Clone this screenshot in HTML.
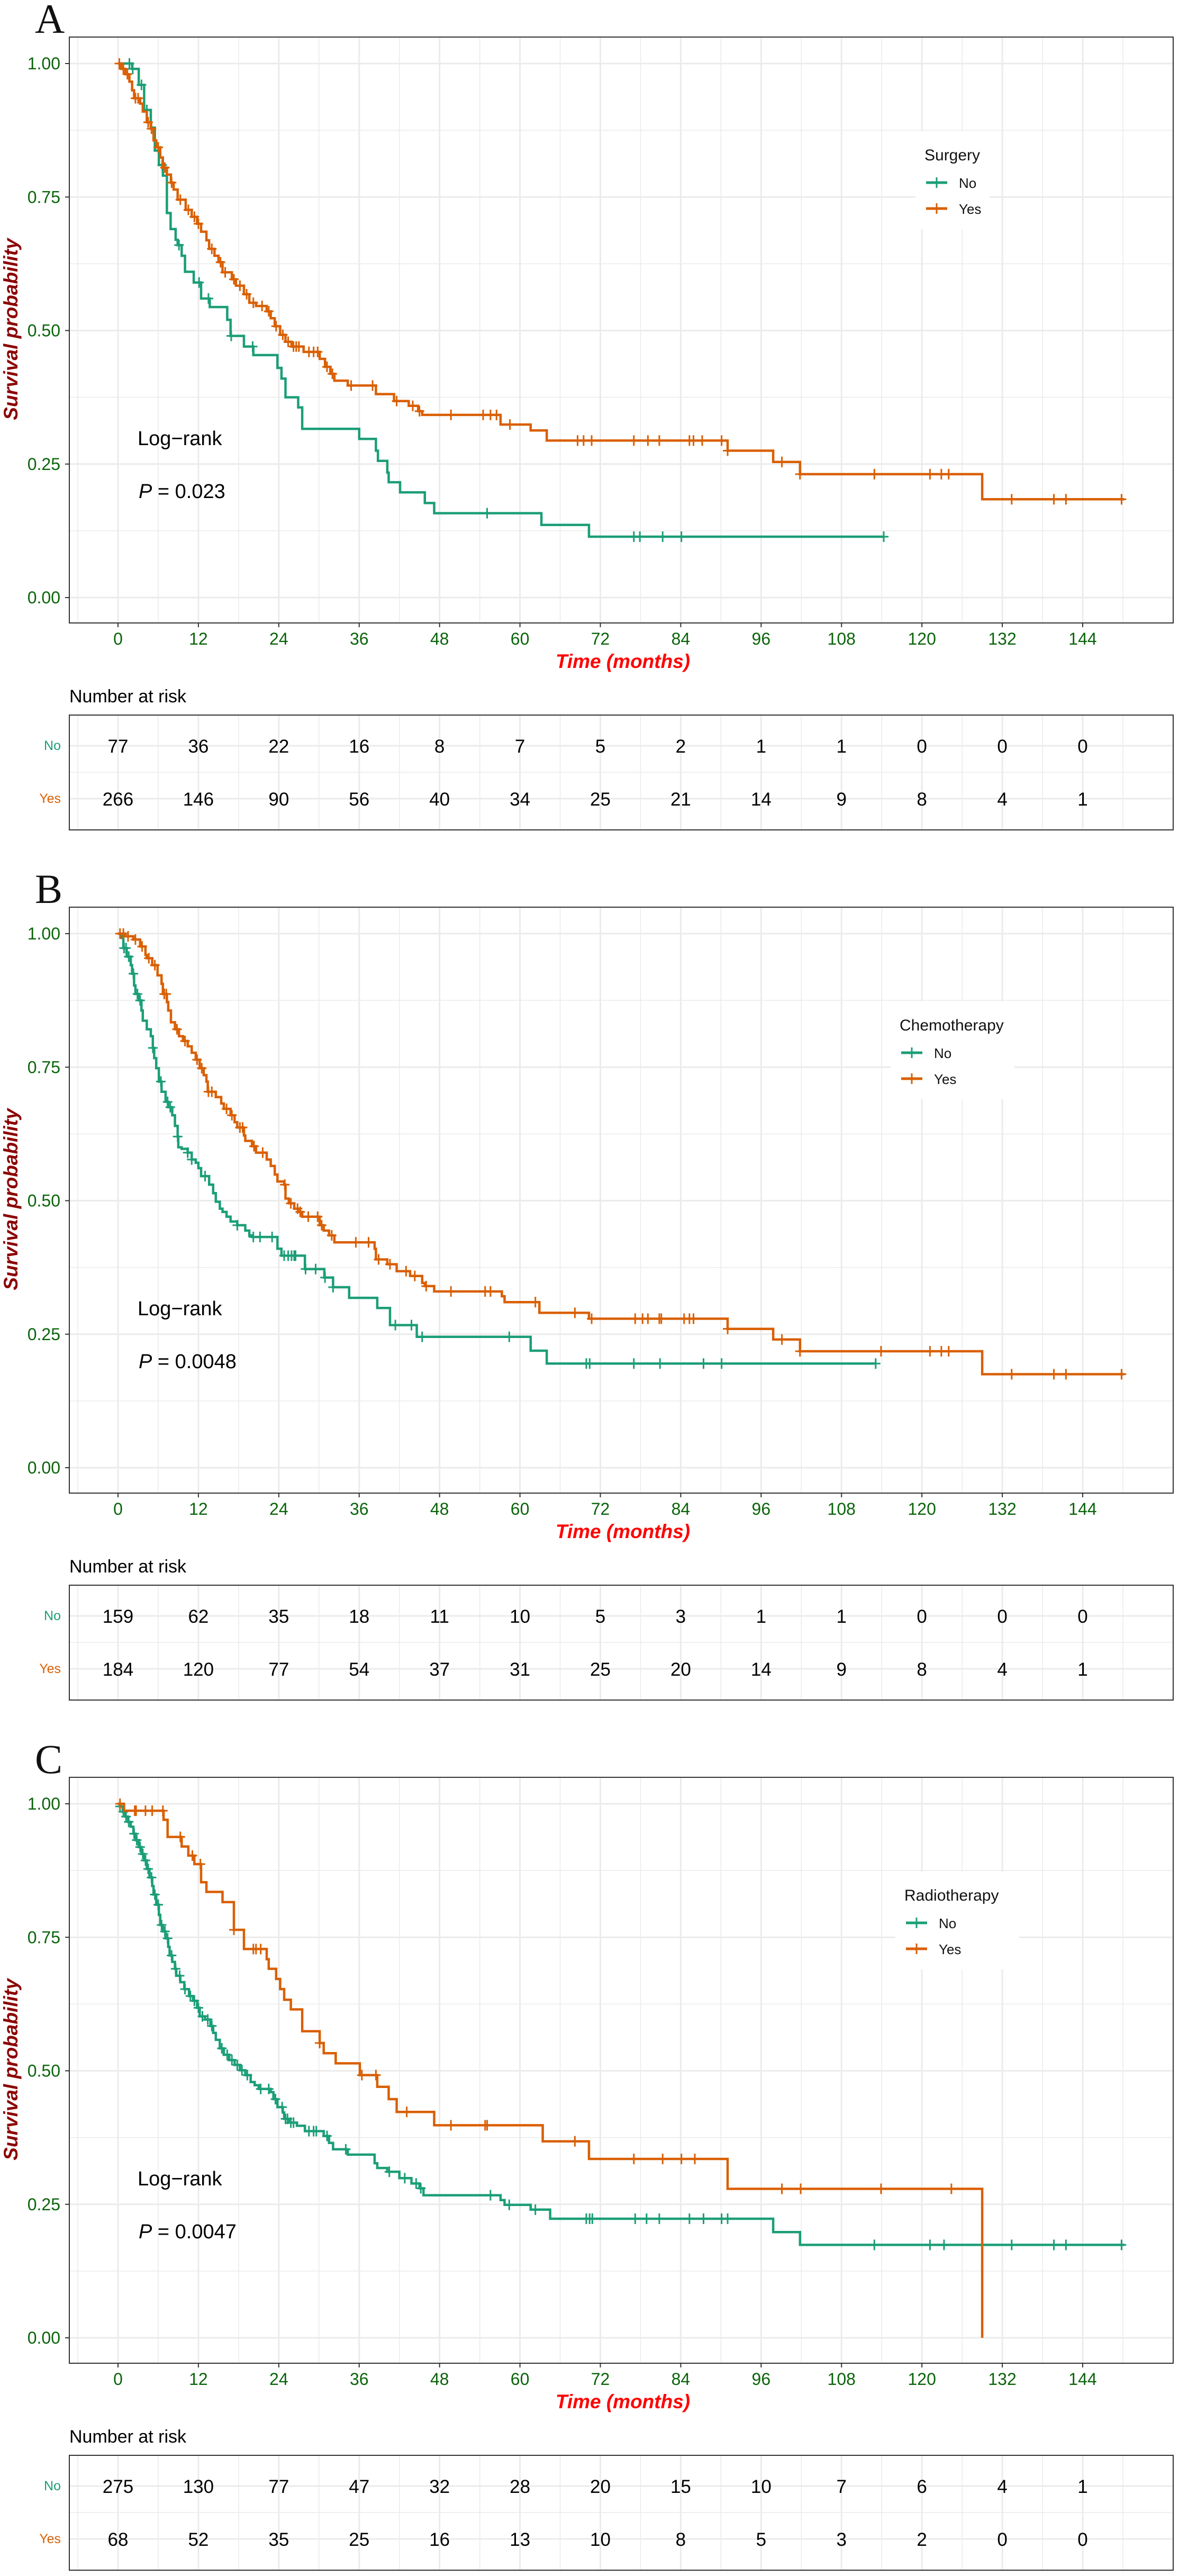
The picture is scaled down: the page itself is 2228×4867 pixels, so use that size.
<!DOCTYPE html>
<html><head><meta charset="utf-8">
<style>
html,body{margin:0;padding:0;background:#fff;}
svg{display:block;font-family:"Liberation Sans",Arial,sans-serif;}
</style></head>
<body>
<svg id="fig" xmlns="http://www.w3.org/2000/svg" width="2228" height="4867" viewBox="0 0 2228 4867">
<rect x="0" y="0" width="2228" height="4867" fill="#fff"/>
</svg>
<script>
// ---------- data: panel A (Surgery) ----------
const aNoT = [2.1,3.1,3.9,4.9,5.5,6.1,6.7,7.3,7.85,8.6,8.9,9.5,10.0,11.3,12.4,13.7,16.3,16.8,18.8,20.2,23.8,24.4,25.0,26.9,27.5,36.0,38.5,38.8,40.2,40.4,42.1,45.8,47.2,63.2,70.3];
const aNoS = [0.99,0.96,0.913,0.88,0.837,0.81,0.79,0.72,0.69,0.67,0.66,0.64,0.61,0.59,0.56,0.544,0.52,0.49,0.47,0.454,0.43,0.41,0.375,0.356,0.316,0.297,0.275,0.256,0.234,0.216,0.197,0.177,0.158,0.136,0.114];
const aNoC = [1.7,2.2,3.5,4.3,6.6,9.1,12.1,13.5,16.9,20.1,55.1,77.0,77.9,81.3,84.1,114.3];
const aNoEnd = 114.3;
const aYesT = [0.5,1.1,1.7,2.1,2.4,3.3,3.7,4.3,4.9,5.3,5.7,6.3,6.7,7.3,7.9,8.3,8.9,10.1,11.0,11.8,12.4,13.2,13.6,14.4,15.0,15.6,17.0,17.6,18.8,19.6,20.6,22.2,22.8,23.4,24.2,25.0,25.9,27.7,30.1,30.9,31.7,32.3,34.3,38.5,41.2,43.4,44.8,45.4,57.1,61.6,64.0,91.0,97.8,101.8,129.0];
const aYesS = [0.99,0.98,0.966,0.95,0.935,0.925,0.91,0.89,0.878,0.856,0.843,0.824,0.805,0.792,0.777,0.764,0.745,0.726,0.713,0.70,0.685,0.669,0.653,0.64,0.628,0.609,0.596,0.584,0.568,0.552,0.546,0.536,0.523,0.508,0.492,0.479,0.47,0.46,0.447,0.432,0.419,0.406,0.397,0.381,0.368,0.359,0.349,0.342,0.324,0.313,0.294,0.275,0.254,0.231,0.184];
const aYesC = [0.2,0.8,1.4,2.6,3.0,4.5,5.0,6.0,7.0,8.0,9.3,10.5,11.4,12.0,14.0,15.3,16.0,17.3,18.2,19.2,20.2,21.5,22.5,23.6,24.6,25.4,26.2,26.6,27.0,28.5,29.2,29.8,31.2,32.0,34.8,38.0,41.6,44.0,45.0,49.7,54.5,55.6,56.5,58.5,68.6,69.5,70.7,77.0,79.1,80.8,85.3,85.9,87.2,90.1,91.0,99.1,101.8,112.9,121.2,122.9,124.0,133.4,139.7,141.5,149.8];
const aYesEnd = 150.2;
const aRiskNo = [77,36,22,16,8,7,5,2,1,1,0,0,0];
const aRiskYes = [266,146,90,56,40,34,25,21,14,9,8,4,1];

// ---------- data: panel B (Chemotherapy) ----------
const bNoT = [0.56,0.8,1.3,1.9,2.1,2.4,2.6,3.1,3.5,3.7,4.3,4.9,5.2,5.4,5.7,6.1,6.5,7.1,7.5,8.1,8.5,8.9,9.0,9.5,10.4,11.0,11.6,12.0,12.4,13.6,14.2,14.6,15.2,15.6,16.2,16.8,17.8,19.0,19.6,20.0,23.8,24.4,27.9,30.8,32.1,34.5,38.7,40.6,44.6,61.6,64.0];
const bNoS = [0.992,0.973,0.957,0.941,0.925,0.903,0.887,0.875,0.856,0.837,0.821,0.808,0.786,0.767,0.748,0.723,0.704,0.685,0.675,0.66,0.64,0.62,0.60,0.597,0.59,0.577,0.571,0.561,0.546,0.53,0.514,0.498,0.485,0.479,0.47,0.461,0.454,0.444,0.435,0.432,0.41,0.397,0.372,0.356,0.338,0.318,0.299,0.267,0.245,0.219,0.195];
const bNoC = [0.9,1.2,1.6,2.3,2.9,3.3,5.2,6.4,7.4,7.8,8.9,10.4,11.0,13.0,17.8,20.2,21.2,23.0,24.8,25.4,25.9,26.3,26.5,28.0,29.5,30.9,32.1,41.4,43.8,45.4,58.4,69.9,70.4,77.0,80.9,87.4,90.1,113.1];
const bNoEnd = 113.1;
const bYesT = [1.1,2.3,3.3,4.1,4.3,5.1,5.9,6.5,6.7,7.3,7.5,7.9,8.5,9.1,9.7,10.4,11.0,11.6,12.2,12.8,13.2,13.4,14.6,15.4,15.8,16.8,17.4,17.8,18.8,19.0,20.0,20.6,22.2,22.8,23.4,23.8,24.8,25.0,25.5,26.3,26.9,27.5,30.1,30.7,31.5,32.3,38.3,38.5,40.2,41.6,43.6,45.4,45.8,47.2,57.3,57.7,62.9,70.3,91.0,97.8,101.8,129.0];
const bYesS = [0.995,0.989,0.976,0.96,0.954,0.941,0.922,0.906,0.887,0.872,0.856,0.834,0.821,0.808,0.799,0.789,0.777,0.764,0.748,0.735,0.723,0.704,0.694,0.682,0.672,0.66,0.647,0.637,0.622,0.612,0.602,0.59,0.577,0.565,0.549,0.536,0.53,0.504,0.495,0.485,0.479,0.47,0.454,0.444,0.435,0.422,0.41,0.39,0.381,0.368,0.359,0.346,0.34,0.33,0.321,0.31,0.29,0.279,0.26,0.24,0.218,0.175];
const bYesC = [0.3,0.8,1.5,2.6,3.6,4.6,5.5,6.9,7.2,8.8,10.0,11.8,12.5,13.5,14.0,16.2,17.0,18.2,18.6,20.3,21.6,24.9,25.8,26.8,27.2,28.4,29.8,30.4,31.9,35.5,37.4,38.9,40.6,43.0,44.3,46.0,49.7,54.8,55.6,62.3,68.2,70.7,77.2,78.3,79.1,80.8,81.1,84.5,85.3,85.9,91.0,99.1,101.8,113.9,121.2,122.9,124.0,133.4,139.7,141.5,149.8];
const bYesEnd = 150.2;
const bRiskNo = [159,62,35,18,11,10,5,3,1,1,0,0,0];
const bRiskYes = [184,120,77,54,37,31,25,20,14,9,8,4,1];

// ---------- data: panel C (Radiotherapy) ----------
const cNoT = [0.3,0.7,1.1,1.5,1.9,2.3,2.6,3.1,3.5,3.9,4.3,4.7,5.1,5.3,5.7,6.1,6.3,6.7,7.1,7.5,7.7,8.1,8.5,8.7,9.3,9.9,10.6,11.2,11.8,12.2,13.0,13.8,14.2,14.6,15.2,15.8,16.6,17.4,18.2,19.0,19.8,20.4,21.0,22.8,23.2,23.8,24.6,24.8,25.5,26.7,27.9,30.7,31.5,32.1,34.3,38.3,38.7,40.2,42.0,43.8,45.0,45.6,57.1,57.7,61.6,64.5,97.8,101.8];
const cNoS = [0.995,0.985,0.976,0.966,0.957,0.944,0.932,0.919,0.906,0.894,0.878,0.862,0.846,0.83,0.811,0.792,0.773,0.761,0.748,0.732,0.716,0.704,0.691,0.678,0.666,0.653,0.64,0.631,0.618,0.602,0.596,0.584,0.571,0.558,0.542,0.53,0.52,0.511,0.501,0.492,0.479,0.473,0.466,0.46,0.447,0.432,0.422,0.41,0.403,0.397,0.387,0.378,0.365,0.353,0.343,0.327,0.318,0.311,0.299,0.289,0.28,0.267,0.258,0.249,0.24,0.223,0.198,0.174];
const cNoC = [0.3,0.8,1.2,1.6,2.4,2.8,3.3,3.7,4.1,4.5,5.0,5.5,6.0,6.5,7.0,7.4,8.0,8.6,9.2,10.0,10.8,11.4,12.0,12.6,13.4,14.0,15.5,16.3,17.0,17.8,18.5,19.3,21.3,22.5,23.5,24.5,25.0,25.3,25.8,26.2,28.5,29.2,29.6,31.2,34.0,40.5,42.8,44.5,45.2,55.6,58.4,62.3,69.9,70.4,70.8,77.2,78.9,80.8,85.3,87.4,90.1,91.0,112.9,121.2,123.3,133.4,139.7,141.5,149.8];
const cNoEnd = 150.2;
const cYesT = [0.9,6.8,7.4,9.5,10.5,11.4,12.4,13.2,15.6,17.3,18.8,22.2,22.5,23.6,24.2,24.8,25.8,27.5,30.1,30.7,32.5,36.1,38.7,40.4,41.6,47.2,63.4,70.3,91.0,129.0];
const cYesS = [0.987,0.97,0.938,0.92,0.903,0.887,0.853,0.835,0.816,0.764,0.728,0.709,0.691,0.672,0.653,0.633,0.615,0.574,0.552,0.533,0.514,0.492,0.47,0.447,0.423,0.398,0.368,0.335,0.279,0.0];
const cYesC = [0.3,2.5,2.7,4.1,5.1,6.7,9.3,11.1,12.3,17.3,20.2,20.6,21.3,30.1,36.4,38.5,43.1,49.7,54.8,55.1,68.2,77.0,81.3,84.1,86.1,99.1,101.9,113.9,124.4];
const cYesEnd = 129.0;
const cRiskNo = [275,130,77,47,32,28,20,15,10,7,6,4,1];
const cRiskYes = [68,52,35,25,16,13,10,8,5,3,2,0,0];

// ---------- tick labels ----------
const xTickLabels = ["0","12","24","36","48","60","72","84","96","108","120","132","144"];
const xTickValues = [0,12,24,36,48,60,72,84,96,108,120,132,144];
const yTickLabels = ["0.00","0.25","0.50","0.75","1.00"];
const yTickValues = [0,0.25,0.5,0.75,1];
const panelLetters = ["A","B","C"];
const legendTitles = ["Surgery","Chemotherapy","Radiotherapy"];
const pValues = ["0.023","0.0048","0.0047"];

const NS = "http://www.w3.org/2000/svg";
const svg = document.getElementById('fig');
const TEAL = "#1B9E77", ORANGE = "#D95F02", GRID = "#EBEBEB", GREEN = "#0A640A";

function mk(tag, attrs, parent, text){
  const e = document.createElementNS(NS, tag);
  for (const k in attrs) e.setAttribute(k, attrs[k]);
  if (text !== undefined) e.textContent = text;
  (parent || svg).appendChild(e);
  return e;
}
function xs(m){ return 223 + m * (1823/144); }
function survAt(T, S, t){ let s = 1; for (let i=0;i<T.length;i++){ if (T[i] <= t) s = S[i]; } return s; }

const panels = [
  {noT:aNoT,noS:aNoS,noC:aNoC,noEnd:aNoEnd,yT:aYesT,yS:aYesS,yC:aYesC,yEnd:aYesEnd,rNo:aRiskNo,rYes:aRiskYes,legX:1747},
  {noT:bNoT,noS:bNoS,noC:bNoC,noEnd:bNoEnd,yT:bYesT,yS:bYesS,yC:bYesC,yEnd:bYesEnd,rNo:bRiskNo,rYes:bRiskYes,legX:1700},
  {noT:cNoT,noS:cNoS,noC:cNoC,noEnd:cNoEnd,yT:cYesT,yS:cYesS,yC:cYesC,yEnd:cYesEnd,rNo:cRiskNo,rYes:cRiskYes,legX:1709}
];

panels.forEach((p, pi) => {
  const o = pi * 1644;
  const ys = s => o + 1129 - s * 1009;
  const g = mk('g', {});
  
  

  const letter = mk('text', {x:66, y:o+62, 'font-family':'"Liberation Serif",serif', 'font-size':78, fill:'#111'}, g, panelLetters[pi]);
  
  

  // plot background & grid
  mk('rect', {x:131, y:o+70, width:2086, height:1107, fill:'#fff'}, g);
  const grid = mk('g', {}, g);
  
  
  for (let m=-6; m<=150; m+=12) mk('line', {x1:xs(m), x2:xs(m), y1:o+70, y2:o+1177, stroke:GRID, 'stroke-width':1.6}, grid);
  for (let m=0; m<=144; m+=12) mk('line', {x1:xs(m), x2:xs(m), y1:o+70, y2:o+1177, stroke:GRID, 'stroke-width':3}, grid);
  [0.125,0.375,0.625,0.875].forEach(s => mk('line', {x1:131, x2:2217, y1:ys(s), y2:ys(s), stroke:GRID, 'stroke-width':1.6}, grid));
  yTickValues.forEach(s => mk('line', {x1:131, x2:2217, y1:ys(s), y2:ys(s), stroke:GRID, 'stroke-width':3}, grid));

  // legend (drawn before curves? legend bg covers grid only)
  const leg = mk('g', {}, g);
  
  
  mk('rect', {x:p.legX-17, y:o+248, width:140+(p.legX===1747?0:94), height:185, fill:'#fff'}, leg);
  mk('text', {x:p.legX, y:o+303, 'font-size':30, fill:'#111'}, leg, legendTitles[pi]);
  [[TEAL,'No',345],[ORANGE,'Yes',394]].forEach(([c,l,yy]) => {
    const en = mk('g', {}, leg);
    
    
    mk('line', {x1:p.legX+3, x2:p.legX+43, y1:o+yy, y2:o+yy, stroke:c, 'stroke-width':5}, en);
    mk('line', {x1:p.legX+23, x2:p.legX+23, y1:o+yy-10, y2:o+yy+10, stroke:c, 'stroke-width':3}, en);
    mk('text', {x:p.legX+65, y:o+yy+10, 'font-size':26, fill:'#111'}, en, l);
  });

  // curves
  [[p.noT,p.noS,p.noC,p.noEnd,TEAL,'no'],[p.yT,p.yS,p.yC,p.yEnd,ORANGE,'yes']].forEach(([T,S,C,E,col,nm]) => {
    let d = 'M' + xs(0) + ' ' + ys(1);
    for (let i=0;i<T.length;i++){ d += ' H' + xs(T[i]).toFixed(1) + ' V' + ys(S[i]).toFixed(1); }
    d += ' H' + xs(E).toFixed(1);
    const path = mk('path', {d:d, fill:'none', stroke:col, 'stroke-width':4.5, 'stroke-linejoin':'miter'}, g);
    
    
    const cg = mk('g', {stroke:col, 'stroke-width':3}, g);
    
    
    C.forEach(t => {
      const cx = xs(t), cy = ys(survAt(T,S,t));
      mk('line', {x1:cx-9, x2:cx+9, y1:cy, y2:cy}, cg);
      mk('line', {x1:cx, x2:cx, y1:cy-10, y2:cy+10}, cg);
    });
  });

  // frame
  const fr = mk('rect', {x:131, y:o+70, width:2086, height:1107, fill:'none', stroke:'#333', 'stroke-width':2}, g);
  
  

  // y axis
  const ya = mk('g', {}, g);
  
  
  yTickValues.forEach((s,i) => {
    mk('line', {x1:123, x2:131, y1:ys(s), y2:ys(s), stroke:'#333', 'stroke-width':2}, ya);
    mk('text', {x:114, y:ys(s)+11, 'font-size':32, fill:GREEN, 'text-anchor':'end'}, ya, yTickLabels[i]);
  });
  const yt = mk('text', {x:0, y:0, 'font-size':37, 'font-weight':'bold', 'font-style':'italic', fill:'#8B0000', 'text-anchor':'middle', transform:'translate(33,' + (o+622) + ') rotate(-90)'}, g, 'Survival probability');
  
  

  // x axis
  const xa = mk('g', {}, g);
  
  
  xTickValues.forEach((m,i) => {
    mk('line', {x1:xs(m), x2:xs(m), y1:o+1177, y2:o+1185, stroke:'#333', 'stroke-width':2}, xa);
    mk('text', {x:xs(m), y:o+1218, 'font-size':32, fill:GREEN, 'text-anchor':'middle'}, xa, xTickLabels[i]);
  });
  const xt = mk('text', {x:1177, y:o+1262, 'font-size':37, 'font-weight':'bold', 'font-style':'italic', fill:'#FF0000', 'text-anchor':'middle'}, g, 'Time (months)');
  
  

  // log-rank annotation
  const lr = mk('text', {x:260, y:o+841, 'font-size':38, fill:'#000'}, g, 'Log\u2212rank');
  
  
  const pv = mk('text', {x:262, y:o+941, 'font-size':38, fill:'#000'}, g);
  
  
  mk('tspan', {'font-style':'italic'}, pv, 'P');
  mk('tspan', {}, pv, ' = ' + pValues[pi]);

  // risk table
  const nr = mk('text', {x:131, y:o+1327, 'font-size':34, fill:'#000'}, g, 'Number at risk');
  
  
  const rt = mk('g', {}, g);
  
  
  for (let m=-6; m<=150; m+=12) mk('line', {x1:xs(m), x2:xs(m), y1:o+1351, y2:o+1568, stroke:GRID, 'stroke-width':1.6}, rt);
  for (let m=0; m<=144; m+=12) mk('line', {x1:xs(m), x2:xs(m), y1:o+1351, y2:o+1568, stroke:GRID, 'stroke-width':3}, rt);
  [1409,1509].forEach(yy => mk('line', {x1:131, x2:2217, y1:o+yy, y2:o+yy, stroke:GRID, 'stroke-width':3}, rt));
  [1459].forEach(yy => mk('line', {x1:131, x2:2217, y1:o+yy, y2:o+yy, stroke:GRID, 'stroke-width':1.6}, rt));
  mk('rect', {x:131, y:o+1351, width:2086, height:217, fill:'none', stroke:'#333', 'stroke-width':2}, rt);
  mk('text', {x:115, y:o+1417, 'font-size':25, fill:TEAL, 'text-anchor':'end'}, rt, 'No');
  mk('text', {x:115, y:o+1517, 'font-size':25, fill:ORANGE, 'text-anchor':'end'}, rt, 'Yes');
  xTickValues.forEach((m,i) => {
    mk('text', {x:xs(m), y:o+1422, 'font-size':35, fill:'#000', 'text-anchor':'middle'}, rt, String(p.rNo[i]));
    mk('text', {x:xs(m), y:o+1522, 'font-size':35, fill:'#000', 'text-anchor':'middle'}, rt, String(p.rYes[i]));
  });
});
</script>
</body></html>
